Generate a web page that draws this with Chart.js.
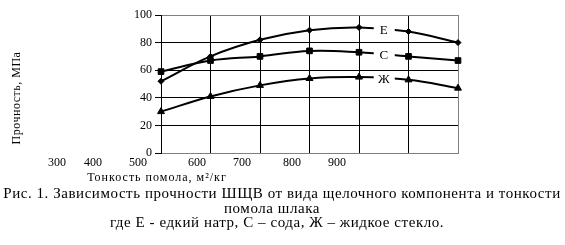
<!DOCTYPE html>
<html>
<head>
<meta charset="utf-8">
<script src="https://cdn.jsdelivr.net/npm/chart.js@4"></script>
<style>
  body { margin: 0; background: #fff; }
  #wrap { width: 565px; height: 245px; }
</style>
</head>
<body>
<div id="wrap"><canvas id="strengthChart" width="565" height="245"></canvas></div>
<script>
// Тонкость помола (categories) and прочность series
const fineness = ['300', '400', '500', '600', '700', '800', '900'];
const seriesE = [52, 70, 82, 89, 91, 88, 80];   // Е - едкий натр
const seriesC = [59, 67, 70, 74, 73, 70, 67];   // С - сода
const seriesZh = [30, 41, 49, 54, 55, 53, 47];  // Ж - жидкое стекло
const seriesNames = ['Е', 'С', 'Ж'];
const yTicks = [0, 20, 40, 60, 80, 100];

// text under the plot (hand placed in the original document)
const xTickLeft = [57, 93, 138, 197, 242, 292, 337];
const xTitle = 'Тонкость помола, м²/кг';
const yTitle = 'Прочность, МПа';
const captionLines = [
  'Рис. 1. Зависимость прочности ШЩВ от вида щелочного компонента и тонкости',
  'помола шлака',
  'где Е - едкий натр, С – сода, Ж – жидкое стекло.'
];
const captionCenters = [282, 272, 277];
const captionY = [194, 209, 223];

const serif = '"Liberation Serif", "Times New Roman", serif';
const gray = '#808080';

// series names sit on the curves between the last points, in white boxes
const seriesLabelPlugin = {
  id: 'seriesLabels',
  afterDatasetsDraw(chart) {
    const ctx = chart.ctx;
    const x = chart.scales.x;
    const y = chart.scales.y;
    const px = (x.getPixelForValue(4) + x.getPixelForValue(5)) / 2;
    ctx.save();
    ctx.font = '13px ' + serif;
    ctx.textAlign = 'center';
    ctx.textBaseline = 'middle';
    chart.data.datasets.forEach((ds, i) => {
      const py = y.getPixelForValue((ds.data[4] + ds.data[5]) / 2);
      ctx.fillStyle = '#fff';
      ctx.fillRect(px - 10, py - 6, 21, 13);
      ctx.fillStyle = '#000';
      ctx.fillText(seriesNames[i], px, py + 1);
    });
    ctx.restore();
  }
};

const pageTextPlugin = {
  id: 'pageText',
  afterDraw(chart) {
    const ctx = chart.ctx;
    ctx.save();
    ctx.fillStyle = '#000';
    ctx.textBaseline = 'middle';
    ctx.textAlign = 'center';

    ctx.font = '12px ' + serif;
    fineness.forEach((lbl, i) => ctx.fillText(lbl, xTickLeft[i], 163));
    ctx.letterSpacing = '1px';
    ctx.fillText(xTitle, 157, 178);

    ctx.save();
    ctx.translate(17, 98);
    ctx.rotate(-Math.PI / 2);
    ctx.letterSpacing = '0.5px';
    ctx.font = '12px ' + serif;
    ctx.fillText(yTitle, 0, 0);
    ctx.restore();

    ctx.font = '15px ' + serif;
    ctx.letterSpacing = '0.55px';
    captionLines.forEach((line, i) => ctx.fillText(line, captionCenters[i], captionY[i]));
    ctx.restore();
  }
};

function makeDataset(data, style, radius) {
  return {
    data: data,
    borderColor: '#000',
    backgroundColor: '#000',
    borderWidth: 2,
    tension: 0.4,
    pointStyle: style,
    pointRadius: radius,
    pointBorderWidth: 1,
    pointBackgroundColor: '#000',
    pointBorderColor: '#000',
    clip: false
  };
}

const ctx = document.getElementById('strengthChart').getContext('2d');
new Chart(ctx, {
  type: 'line',
  data: {
    labels: fineness,
    datasets: [
      makeDataset(seriesE, 'rectRot', 3),
      makeDataset(seriesC, 'rect', 4),
      makeDataset(seriesZh, 'triangle', 4)
    ]
  },
  options: {
    responsive: false,
    animation: false,
    layout: { padding: { left: 0, right: 107, top: 15, bottom: 0 } },
    plugins: {
      legend: { display: false },
      tooltip: { enabled: false },
      title: { display: false }
    },
    scales: {
      x: {
        offset: false,
        afterFit(scale) { scale.height = 92; },
        ticks: { display: false },
        grid: {
          drawTicks: false,
          color: c => (c.index === fineness.length - 1 ? gray : '#000'),
          lineWidth: 1
        },
        border: { color: gray, width: 1 }
      },
      y: {
        min: 0,
        max: 100,
        afterFit(scale) { scale.width = 161; },
        afterBuildTicks(scale) { scale.ticks = yTicks.map(v => ({ value: v })); },
        ticks: {
          color: '#000',
          padding: 3,
          font: { family: serif, size: 12 }
        },
        grid: {
          color: c => (c.tick && (c.tick.value === 100 || c.tick.value === 0) ? gray : '#000'),
          tickColor: '#000',
          tickLength: 6,
          lineWidth: 1
        },
        border: { color: '#000', width: 1 }
      }
    }
  },
  plugins: [seriesLabelPlugin, pageTextPlugin]
});
</script>
</body>
</html>
